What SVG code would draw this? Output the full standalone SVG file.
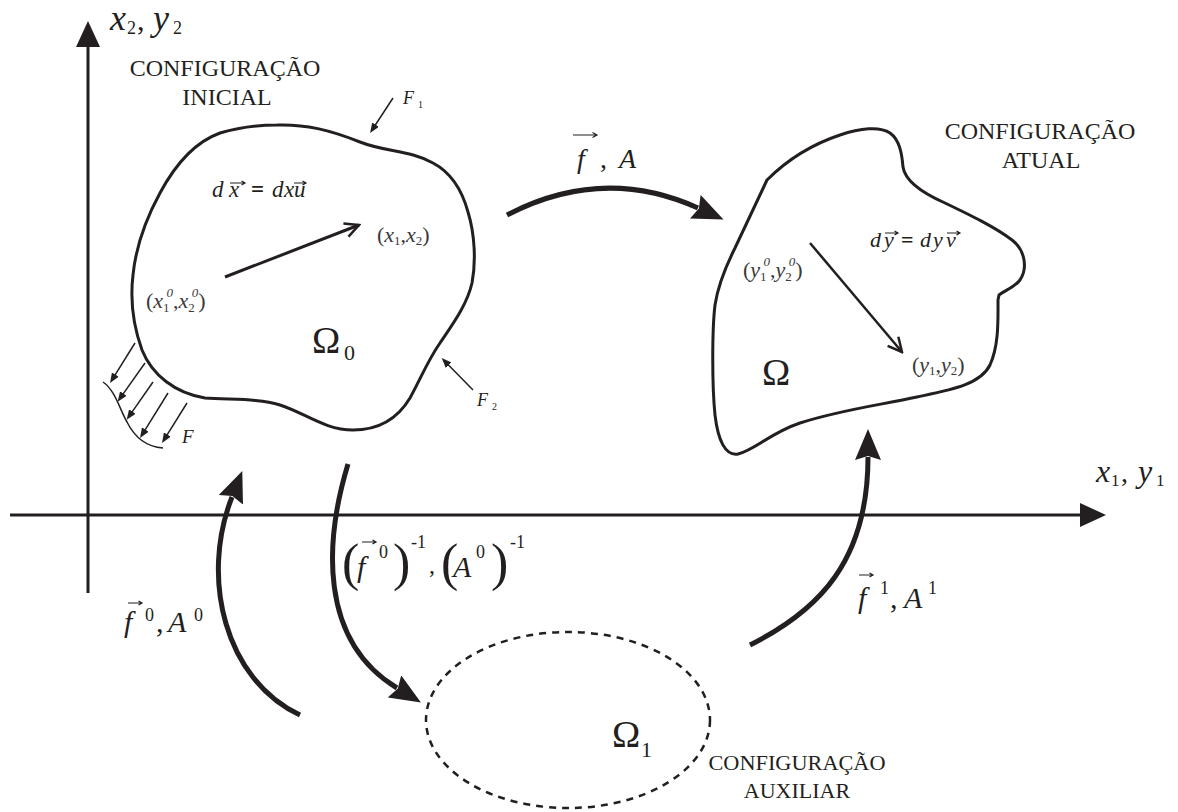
<svg xmlns="http://www.w3.org/2000/svg" width="1178" height="812" viewBox="0 0 1178 812" style="font-family:'Liberation Serif',serif">
<style>
svg text, svg tspan, text, tspan{font-family:"Liberation Serif", serif !important}
text{fill:#231f20}
.mi{font-style:italic}
.cap{font-size:24px;text-anchor:middle}
.coord{font-size:22px;fill:#3a3a3a}
.ln{fill:none;stroke:#231f20}
.vec{fill:none;stroke:#231f20;stroke-width:1.2}
.hd{fill:#231f20;stroke:none}
</style>
<defs>
<marker id="ax" markerUnits="userSpaceOnUse" viewBox="0 0 26 24" refX="1" refY="12" markerWidth="26" markerHeight="24" orient="auto"><path d="M0,0 L26,12 L0,24 z" fill="#231f20"/></marker>
<marker id="bigh" markerUnits="userSpaceOnUse" viewBox="0 0 32 26" refX="3" refY="13" markerWidth="32" markerHeight="26" orient="auto"><path d="M0,0 L31,13 L0,26 L4,13 z" fill="#231f20"/></marker>
<marker id="sm" markerUnits="userSpaceOnUse" viewBox="0 0 10 8" refX="1" refY="4" markerWidth="10" markerHeight="8" orient="auto"><path d="M0,0 L10,4 L0,8 z" fill="#231f20"/></marker>
<marker id="open" markerUnits="userSpaceOnUse" viewBox="-17 -9 19 18" refX="0" refY="0" markerWidth="19" markerHeight="18" orient="auto"><path d="M-14,-7 L0,0 L-14,7" fill="none" stroke="#231f20" stroke-width="2.5"/></marker>
</defs>

<g id="axes">
<path class="ln" stroke-width="3" d="M88,593 V46" marker-end="url(#ax)"/>
<path class="ln" stroke-width="3" d="M10,515 H1081" marker-end="url(#ax)"/>
<text font-family="Liberation Serif" style="font-family:'Liberation Serif',serif" class="mi" x="110" y="30" font-size="36">x</text>
<text font-family="Liberation Serif" style="font-family:'Liberation Serif',serif" x="127" y="34" font-size="18">2</text>
<text font-family="Liberation Serif" style="font-family:'Liberation Serif',serif" x="137" y="30" font-size="30">,</text>
<text font-family="Liberation Serif" style="font-family:'Liberation Serif',serif" class="mi" x="153" y="30" font-size="36">y</text>
<text font-family="Liberation Serif" style="font-family:'Liberation Serif',serif" x="173" y="34" font-size="18">2</text>
<text font-family="Liberation Serif" style="font-family:'Liberation Serif',serif" class="mi" x="1096" y="482" font-size="32">x</text>
<text font-family="Liberation Serif" style="font-family:'Liberation Serif',serif" x="1111" y="486" font-size="17">1</text>
<text font-family="Liberation Serif" style="font-family:'Liberation Serif',serif" x="1121" y="482" font-size="28">,</text>
<text font-family="Liberation Serif" style="font-family:'Liberation Serif',serif" class="mi" x="1138" y="482" font-size="32">y</text>
<text font-family="Liberation Serif" style="font-family:'Liberation Serif',serif" x="1156" y="486" font-size="17">1</text>
</g>

<g id="node-initial">
<path class="ln" stroke-width="3" d="M277,125 C305,124 330,130 360,142 C385,152 410,150 433,163 C450,172 462,190 468,212 C475,235 476,262 472,283 C467,305 452,325 440,343 C428,360 420,380 410,398 C398,418 380,430 353,430 C325,430 305,413 280,405 C258,398 230,400 205,398 C175,393 152,375 142,350 C133,325 130,300 133,275 C136,245 148,215 160,193 C175,165 195,142 220,133 C240,127 258,125 277,125 Z"/>
<path class="ln" stroke-width="3" d="M225,277 L359,225" marker-end="url(#open)"/>
<path class="vec" d="M230,183 H245 M241.5,181 L245,183 L241.5,185"/>
<path class="vec" d="M294,183 H306 M302.5,181 L306,183 L302.5,185"/>
<path class="ln" stroke-width="1.5" d="M393,98 L375,125.5" marker-end="url(#sm)"/>
<path class="ln" stroke-width="1.5" d="M473,390 L448,364.5" marker-end="url(#sm)"/>
<path class="ln" stroke-width="1.5" d="M103,382 C115,390 120,410 127,422 C135,438 148,447 163,448"/>
<path class="ln" stroke-width="1.5" d="M135,343 L114.8,375.4" marker-end="url(#sm)"/>
<path class="ln" stroke-width="1.5" d="M145,363 L122.8,394.4" marker-end="url(#sm)"/>
<path class="ln" stroke-width="1.5" d="M153,382 L131.8,412.4" marker-end="url(#sm)"/>
<path class="ln" stroke-width="1.5" d="M168,393 L144.8,430.4" marker-end="url(#sm)"/>
<path class="ln" stroke-width="1.5" d="M187,403 L166.8,435.4" marker-end="url(#sm)"/>
<text font-family="Liberation Serif" style="font-family:'Liberation Serif',serif" class="cap" x="225" y="76">CONFIGURAÇÃO</text>
<text font-family="Liberation Serif" style="font-family:'Liberation Serif',serif" class="cap" x="227" y="105">INICIAL</text>
<text font-family="Liberation Serif" style="font-family:'Liberation Serif',serif" class="mi" x="212" y="197" font-size="23">d</text>
<text font-family="Liberation Serif" style="font-family:'Liberation Serif',serif" class="mi" x="229" y="197" font-size="23">x</text>
<text font-family="Liberation Serif" style="font-family:'Liberation Serif',serif" x="251" y="197" font-size="23" font-weight="bold">=</text>
<text font-family="Liberation Serif" style="font-family:'Liberation Serif',serif" class="mi" x="272" y="197" font-size="23">d</text>
<text font-family="Liberation Serif" style="font-family:'Liberation Serif',serif" class="mi" x="284" y="197" font-size="23">x</text>
<text font-family="Liberation Serif" style="font-family:'Liberation Serif',serif" class="mi" x="294" y="197" font-size="23">u</text>
<text font-family="Liberation Serif" style="font-family:'Liberation Serif',serif" class="coord" x="377" y="242">(<tspan class="mi">x</tspan><tspan font-size="13" dy="3">1</tspan><tspan dy="-3">,</tspan><tspan class="mi">x</tspan><tspan font-size="13" dy="3">2</tspan><tspan dy="-3">)</tspan></text>
<text font-family="Liberation Serif" style="font-family:'Liberation Serif',serif" class="coord" x="146" y="308">(<tspan class="mi">x</tspan><tspan font-size="13" dy="4">1</tspan><tspan class="mi" font-size="13" dx="-3" dy="-15">0</tspan><tspan dy="11">,</tspan><tspan class="mi">x</tspan><tspan font-size="13" dy="4">2</tspan><tspan class="mi" font-size="13" dx="-3" dy="-15">0</tspan><tspan dy="11">)</tspan></text>
<text font-family="Liberation Serif" style="font-family:'Liberation Serif',serif" x="312" y="353" font-size="38">Ω</text>
<text font-family="Liberation Serif" style="font-family:'Liberation Serif',serif" x="344" y="360" font-size="22">0</text>
<text font-family="Liberation Serif" style="font-family:'Liberation Serif',serif" class="mi" x="403" y="104" font-size="18">F</text>
<text font-family="Liberation Serif" style="font-family:'Liberation Serif',serif" x="418" y="108" font-size="10">1</text>
<text font-family="Liberation Serif" style="font-family:'Liberation Serif',serif" class="mi" x="477" y="406" font-size="18">F</text>
<text font-family="Liberation Serif" style="font-family:'Liberation Serif',serif" x="492" y="410" font-size="10">2</text>
<text font-family="Liberation Serif" style="font-family:'Liberation Serif',serif" class="mi" x="182" y="443" font-size="19">F</text>
</g>

<g id="node-current">
<path class="ln" stroke-width="3" d="M767,180 C785,162 810,145 840,135 C860,128 880,126 890,133 C900,140 902,155 903,167 C905,180 920,192 945,203 C970,215 995,227 1012,240 C1025,250 1028,268 1020,280 C1014,288 1005,290 999,295 L998,300 C998,320 999,345 990,365 C980,385 950,390 917,397 C880,405 840,410 800,423 C770,433 755,450 738,454 C725,456 718,440 715,415 C712,385 712,330 715,305 C718,285 725,268 735,248 Z"/>
<path class="ln" stroke-width="2.5" d="M810,243 L902,352" marker-end="url(#open)"/>
<path class="vec" d="M885,233 H898 M894.5,231 L898,233 L894.5,235"/>
<path class="vec" d="M947,233 H960 M956.5,231 L960,233 L956.5,235"/>
<text font-family="Liberation Serif" style="font-family:'Liberation Serif',serif" class="cap" x="1040" y="139">CONFIGURAÇÃO</text>
<text font-family="Liberation Serif" style="font-family:'Liberation Serif',serif" class="cap" x="1041" y="168">ATUAL</text>
<text font-family="Liberation Serif" style="font-family:'Liberation Serif',serif" class="mi" x="870" y="247" font-size="22">d</text>
<text font-family="Liberation Serif" style="font-family:'Liberation Serif',serif" class="mi" x="884" y="247" font-size="22">y</text>
<text font-family="Liberation Serif" style="font-family:'Liberation Serif',serif" x="901" y="247" font-size="22" font-weight="bold">=</text>
<text font-family="Liberation Serif" style="font-family:'Liberation Serif',serif" class="mi" x="920" y="247" font-size="22">d</text>
<text font-family="Liberation Serif" style="font-family:'Liberation Serif',serif" class="mi" x="933" y="247" font-size="22">y</text>
<text font-family="Liberation Serif" style="font-family:'Liberation Serif',serif" class="mi" x="946" y="247" font-size="22">v</text>
<text font-family="Liberation Serif" style="font-family:'Liberation Serif',serif" class="coord" x="743" y="277">(<tspan class="mi">y</tspan><tspan font-size="13" dy="4">1</tspan><tspan class="mi" font-size="13" dx="-3" dy="-15">0</tspan><tspan dy="11">,</tspan><tspan class="mi">y</tspan><tspan font-size="13" dy="4">2</tspan><tspan class="mi" font-size="13" dx="-3" dy="-15">0</tspan><tspan dy="11">)</tspan></text>
<text font-family="Liberation Serif" style="font-family:'Liberation Serif',serif" class="coord" x="912" y="372">(<tspan class="mi">y</tspan><tspan font-size="13" dy="3">1</tspan><tspan dy="-3">,</tspan><tspan class="mi">y</tspan><tspan font-size="13" dy="3">2</tspan><tspan dy="-3">)</tspan></text>
<text font-family="Liberation Serif" style="font-family:'Liberation Serif',serif" x="762" y="385" font-size="38">Ω</text>
</g>

<g id="node-auxiliary">
<ellipse cx="568" cy="720" rx="142" ry="88" fill="none" stroke="#231f20" stroke-width="2.5" stroke-dasharray="7 6"/>
<text font-family="Liberation Serif" style="font-family:'Liberation Serif',serif" x="612" y="747" font-size="38">Ω</text>
<text font-family="Liberation Serif" style="font-family:'Liberation Serif',serif" x="641" y="757" font-size="22">1</text>
<text font-family="Liberation Serif" style="font-family:'Liberation Serif',serif" text-anchor="middle" x="797" y="770" font-size="22" textLength="177" lengthAdjust="spacingAndGlyphs">CONFIGURAÇÃO</text>
<text font-family="Liberation Serif" style="font-family:'Liberation Serif',serif" text-anchor="middle" x="797" y="798" font-size="22">AUXILIAR</text>
</g>

<g id="connectors">
<path class="ln" stroke-width="5" d="M507,215 Q603,165 698,208" marker-end="url(#bigh)"/>
<path class="ln" stroke-width="5" d="M300,715 C225,680 200,578 232,497" marker-end="url(#bigh)"/>
<path class="ln" stroke-width="5" d="M348,464 C325,540 318,640 397,688" marker-end="url(#bigh)"/>
<path class="ln" stroke-width="5" d="M750,645 C820,610 868,560 868,457" marker-end="url(#bigh)"/>
<path class="vec" d="M573,135 H597 M592.5,132.5 L597,135 L592.5,137.5"/>
<path class="vec" d="M128,603 H142 M138.5,601 L142,603 L138.5,605"/>
<path class="vec" d="M859,575 H873 M869.5,573 L873,575 L869.5,577"/>
<path class="vec" d="M362,542 H376 M372.5,540 L376,542 L372.5,544"/>
<text font-family="Liberation Serif" style="font-family:'Liberation Serif',serif" class="mi" x="577" y="168" font-size="28">f</text>
<text font-family="Liberation Serif" style="font-family:'Liberation Serif',serif" x="600" y="168" font-size="28">,</text>
<text font-family="Liberation Serif" style="font-family:'Liberation Serif',serif" class="mi" x="619" y="168" font-size="28">A</text>
<text font-family="Liberation Serif" style="font-family:'Liberation Serif',serif" class="mi" x="124" y="632" font-size="30">f</text>
<text font-family="Liberation Serif" style="font-family:'Liberation Serif',serif" x="145" y="621" font-size="18">0</text>
<text font-family="Liberation Serif" style="font-family:'Liberation Serif',serif" x="156" y="632" font-size="30">,</text>
<text font-family="Liberation Serif" style="font-family:'Liberation Serif',serif" class="mi" x="168" y="632" font-size="30">A</text>
<text font-family="Liberation Serif" style="font-family:'Liberation Serif',serif" x="194" y="621" font-size="18">0</text>
<text font-family="Liberation Serif" style="font-family:'Liberation Serif',serif" class="mi" x="858" y="608" font-size="30">f</text>
<text font-family="Liberation Serif" style="font-family:'Liberation Serif',serif" x="880" y="594" font-size="18">1</text>
<text font-family="Liberation Serif" style="font-family:'Liberation Serif',serif" x="890" y="608" font-size="30">,</text>
<text font-family="Liberation Serif" style="font-family:'Liberation Serif',serif" class="mi" x="904" y="608" font-size="30">A</text>
<text font-family="Liberation Serif" style="font-family:'Liberation Serif',serif" x="928" y="594" font-size="18">1</text>
<text font-family="Liberation Serif" style="font-family:'Liberation Serif',serif" x="342" y="580" font-size="52">(</text>
<text font-family="Liberation Serif" style="font-family:'Liberation Serif',serif" class="mi" x="357" y="577" font-size="30">f</text>
<text font-family="Liberation Serif" style="font-family:'Liberation Serif',serif" x="379" y="558" font-size="18">0</text>
<text font-family="Liberation Serif" style="font-family:'Liberation Serif',serif" x="393" y="580" font-size="52">)</text>
<text font-family="Liberation Serif" style="font-family:'Liberation Serif',serif" x="411" y="548" font-size="18">-1</text>
<text font-family="Liberation Serif" style="font-family:'Liberation Serif',serif" x="429" y="573" font-size="24">,</text>
<text font-family="Liberation Serif" style="font-family:'Liberation Serif',serif" x="441" y="580" font-size="52">(</text>
<text font-family="Liberation Serif" style="font-family:'Liberation Serif',serif" class="mi" x="453" y="577" font-size="30">A</text>
<text font-family="Liberation Serif" style="font-family:'Liberation Serif',serif" x="476" y="558" font-size="18">0</text>
<text font-family="Liberation Serif" style="font-family:'Liberation Serif',serif" x="491" y="580" font-size="52">)</text>
<text font-family="Liberation Serif" style="font-family:'Liberation Serif',serif" x="510" y="548" font-size="18">-1</text>
</g>
</svg>
